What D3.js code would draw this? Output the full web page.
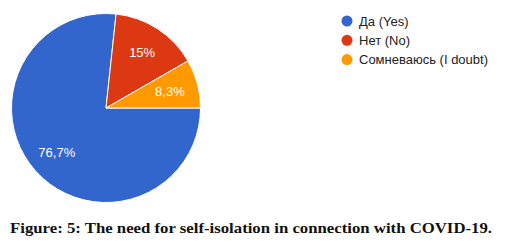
<!DOCTYPE html>
<html>
<head>
<meta charset="utf-8">
<script src="https://d3js.org/d3.v7.min.js"></script>
<style>
  body { margin: 0; background: #fff; }
</style>
</head>
<body>
<div id="chart"></div>
<script>
// answers and shares (percent)
var labels = ["Да (Yes)", "Нет (No)", "Сомневаюсь (I doubt)"];
var shares = [76.7, 15, 8.3];
var shareText = ["76,7%", "15%", "8,3%"];
var colors = ["#3366cc", "#dc3912", "#ff9900"];
var caption = "Figure: 5: The need for self-isolation in connection with COVID-19.";

var width = 505, height = 247;
var cx = 106, cy = 108, r = 94.5;

var svg = d3.select("#chart").append("svg")
  .attr("width", width)
  .attr("height", height);

// pie starts at 3 o'clock and runs clockwise
var pie = d3.pie().sort(null)
  .startAngle(Math.PI / 2)
  .endAngle(Math.PI / 2 + 2 * Math.PI);
var arcs = pie(shares);

var arc = d3.arc().innerRadius(0).outerRadius(r);
var labelArc = d3.arc().innerRadius(r * 0.7).outerRadius(r * 0.7);

var g = svg.append("g").attr("transform", "translate(" + cx + "," + cy + ")");

g.selectAll("path")
  .data(arcs)
  .enter()
  .append("path")
  .attr("d", arc)
  .attr("fill", function(d, i) { return colors[i]; })
  .attr("stroke", "#fff")
  .attr("stroke-width", 1);

g.selectAll("text")
  .data(arcs)
  .enter()
  .append("text")
  .attr("transform", function(d) { return "translate(" + labelArc.centroid(d) + ")"; })
  .attr("text-anchor", "middle")
  .attr("dy", "0.35em")
  .style("font-family", "Arial, 'Liberation Sans', sans-serif")
  .style("font-size", "13px")
  .attr("fill", "#fff")
  .text(function(d, i) { return shareText[i]; });

// legend
var legend = svg.append("g").attr("transform", "translate(347,21)");
var item = legend.selectAll("g")
  .data(labels)
  .enter()
  .append("g")
  .attr("transform", function(d, i) { return "translate(0," + (i * 19.3) + ")"; });

item.append("circle")
  .attr("r", 5.5)
  .attr("fill", function(d, i) { return colors[i]; });

item.append("text")
  .attr("x", 12)
  .attr("dy", "0.36em")
  .style("font-family", "Arial, 'Liberation Sans', sans-serif")
  .style("font-size", "13px")
  .attr("fill", "#222")
  .text(function(d) { return d; });

// caption
svg.append("text")
  .attr("x", 10)
  .attr("y", 232.5)
  .attr("textLength", 482)
  .attr("lengthAdjust", "spacingAndGlyphs")
  .style("font-family", "'Liberation Serif', 'DejaVu Serif', serif")
  .style("font-weight", "bold")
  .style("font-size", "15px")
  .attr("fill", "#111")
  .text(caption);
</script>
</body>
</html>
